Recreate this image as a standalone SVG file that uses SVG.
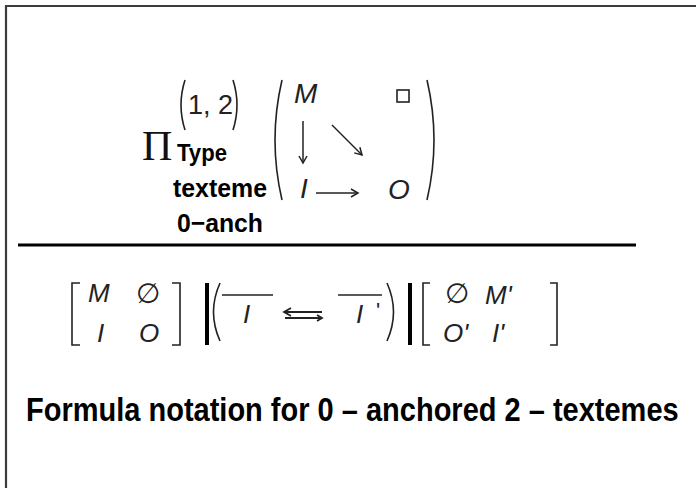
<svg xmlns="http://www.w3.org/2000/svg" width="696" height="488" viewBox="0 0 696 488">
  <style>
    .math { font-family: "Liberation Sans", "DejaVu Sans", sans-serif; font-style: italic; fill: #222; }
    .num { font-family: "Liberation Sans", "DejaVu Sans", sans-serif; fill: #222; }
    .lbl { font-family: "Liberation Sans", Arial, sans-serif; font-weight: bold; fill: #000; }
    .fence { fill: none; stroke: #222; stroke-width: 1.6; }
    .arrow { fill: none; stroke: #222; stroke-width: 1.5; }
  </style>
  <defs>
    <marker id="head" markerWidth="10" markerHeight="10" refX="8" refY="5" orient="auto" markerUnits="userSpaceOnUse">
      <path d="M1,1 L8,5 L1,9" fill="none" stroke="#222" stroke-width="1.5"/>
    </marker>
  </defs>

  <rect width="696" height="488" fill="#fff"/>
  <!-- frame: top and left edges -->
  <path d="M6,488 V6 H696" fill="none" stroke="#3c3c3c" stroke-width="2.2"/>

  <!-- product operator with limits -->
  <g id="product">
    <text x="142" y="160" font-family="Liberation Serif, serif" font-size="42" fill="#111">Π</text>
    <path class="fence" d="M185,80 Q177,105 185,130"/>
    <text class="num" x="188" y="114" font-size="27">1, 2</text>
    <path class="fence" d="M233,80 Q241,105 233,130"/>
    <!-- bold limit labels, stretched vertically -->
    <g transform="translate(0,161) scale(1,1.15) translate(0,-161)">
      <text class="lbl" x="177" y="161" font-size="21" textLength="50" lengthAdjust="spacingAndGlyphs">Type</text>
    </g>
    <g transform="translate(0,197) scale(1,1.15) translate(0,-197)">
      <text class="lbl" x="173" y="197" font-size="23" textLength="94" lengthAdjust="spacingAndGlyphs">texteme</text>
    </g>
    <g transform="translate(0,232) scale(1,1.15) translate(0,-232)">
      <text class="lbl" x="177" y="232" font-size="23" textLength="86" lengthAdjust="spacingAndGlyphs">0−anch</text>
    </g>
  </g>

  <!-- diagram matrix -->
  <g id="matrix">
    <path class="fence" d="M282,80 Q268,140 282,200"/>
    <path class="fence" d="M427,80 Q441,140 427,200"/>
    <text class="math" x="294" y="103" font-size="28">M</text>
    <rect x="397" y="90" width="12" height="12" fill="none" stroke="#222" stroke-width="1.6"/>
    <text class="math" x="300" y="198" font-size="28">I</text>
    <text class="math" x="388" y="199" font-size="28">O</text>
  </g>

  <!-- arrows inside the matrix -->
  <g id="connectors">
    <line class="arrow" x1="303" y1="121" x2="303" y2="163" marker-end="url(#head)"/>
    <line class="arrow" x1="332" y1="125" x2="362" y2="155" marker-end="url(#head)"/>
    <line class="arrow" x1="316" y1="193" x2="358" y2="193" marker-end="url(#head)"/>
  </g>

  <!-- fraction rule -->
  <line x1="18" y1="245" x2="636" y2="245" stroke="#000" stroke-width="3"/>

  <!-- lower expression -->
  <g id="left-block">
    <path class="fence" d="M80,283 H72 V345 H80"/>
    <text class="math" x="88" y="302" font-size="26">M</text>
    <text class="num" x="136" y="303" font-size="28">∅</text>
    <text class="math" x="97" y="342" font-size="26">I</text>
    <text class="math" x="139" y="342" font-size="26">O</text>
    <path class="fence" d="M172,283 H180 V345 H172"/>
  </g>

  <g id="middle-block">
    <rect x="205" y="283" width="4" height="62" fill="#000"/>
    <path class="fence" d="M220,283 Q207,312 220,341"/>
    <line x1="222" y1="295" x2="273" y2="295" stroke="#222" stroke-width="1.6"/>
    <text class="math" x="243" y="323" font-size="26">I</text>
    <path d="M322,312 H285 M291,308 L284,312 L291,316 M285,318 H321 M317,315 L322,318 L317,321" fill="none" stroke="#222" stroke-width="1.8"/>
    <line x1="338" y1="295" x2="382" y2="295" stroke="#222" stroke-width="1.6"/>
    <text class="math" x="356" y="323" font-size="26">I</text>
    <text class="num" x="376" y="318" font-size="22">'</text>
    <path class="fence" d="M387,283 Q400,312 387,341"/>
    <rect x="408" y="283" width="4" height="62" fill="#000"/>
  </g>

  <g id="right-block">
    <path class="fence" d="M430,283 H423 V345 H430"/>
    <text class="num" x="445" y="303" font-size="28">∅</text>
    <text class="math" x="485" y="304" font-size="26">M'</text>
    <text class="math" x="443" y="342" font-size="26">O'</text>
    <text class="math" x="492" y="342" font-size="26">I'</text>
    <path class="fence" d="M550,283 H557 V345 H550"/>
  </g>

  <!-- caption, stretched vertically -->
  <g id="caption" transform="translate(0,421) scale(1,1.15) translate(0,-421)">
    <text class="lbl" x="26" y="421" font-size="29">Formula notation for 0 – anchored 2 – textemes</text>
  </g>
</svg>
